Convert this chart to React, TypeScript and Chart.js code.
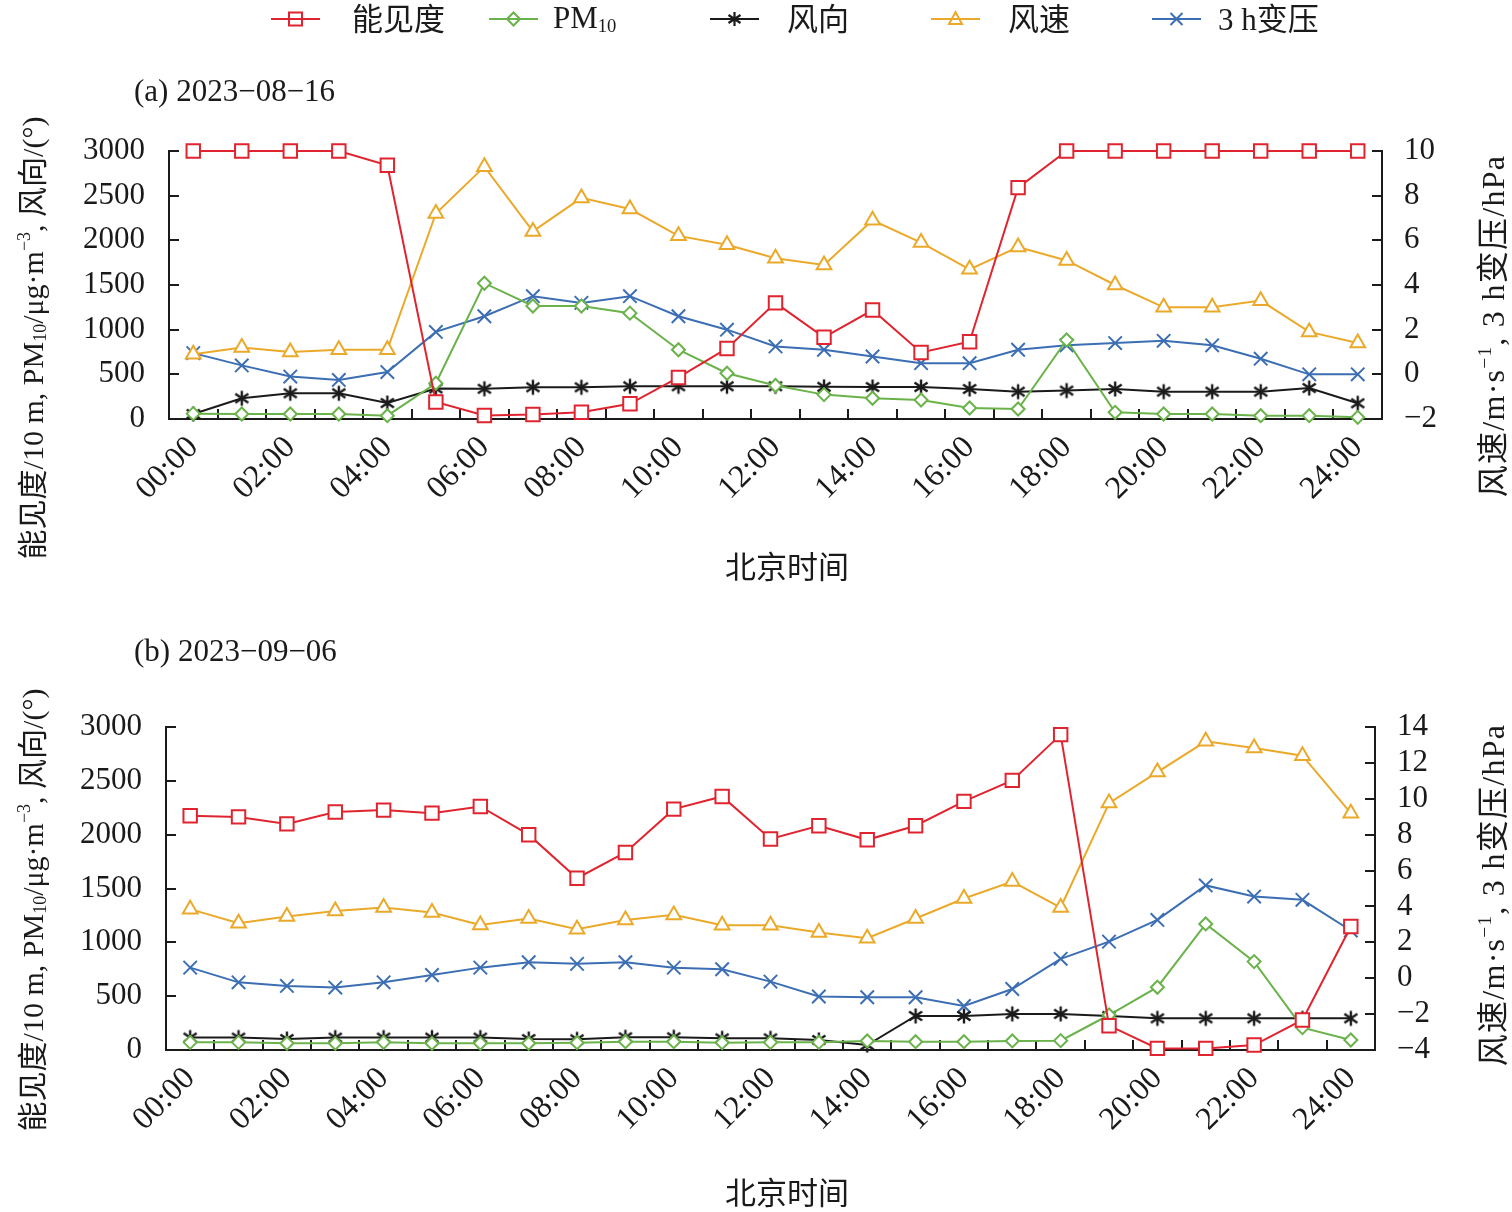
import React, { useEffect, useRef } from 'react';
import { Chart, registerables } from 'chart.js';

Chart.register(...registerables);

const FONT = '"Liberation Serif", "Times New Roman", "Noto Sans CJK SC", serif';

// ---------- data ----------
const hours = [
  '00:00', '01:00', '02:00', '03:00', '04:00', '05:00', '06:00', '07:00', '08:00',
  '09:00', '10:00', '11:00', '12:00', '13:00', '14:00', '15:00', '16:00', '17:00',
  '18:00', '19:00', '20:00', '21:00', '22:00', '23:00', '24:00',
];

const seriesNames = ['能见度', 'PM10', '风向', '风速', '3 h变压'];

// (a) 2023-08-16
const visibilityA = [3000, 3000, 3000, 3000, 2840, 190, 40, 50, 75, 170, 465, 790, 1300, 915, 1220, 745, 865, 2590, 3000, 3000, 3000, 3000, 3000, 3000, 3000];
const pm10A = [60, 56, 56, 56, 37, 400, 1520, 1265, 1265, 1185, 775, 512, 375, 273, 232, 213, 123, 112, 885, 75, 56, 56, 37, 37, 19];
const windDirA = [56, 232, 288, 288, 179, 342, 338, 355, 355, 366, 366, 366, 366, 360, 358, 358, 336, 306, 318, 336, 306, 306, 306, 347, 176];
const windSpeedA = [0.9, 1.2, 1.0, 1.1, 1.1, 7.2, 9.3, 6.4, 7.9, 7.4, 6.2, 5.8, 5.2, 4.9, 6.9, 5.9, 4.7, 5.7, 5.1, 4.0, 3.0, 3.0, 3.3, 1.9, 1.4];
const pressureA = [0.95, 0.4, -0.1, -0.25, 0.1, 1.9, 2.6, 3.5, 3.2, 3.5, 2.6, 2.0, 1.25, 1.1, 0.8, 0.5, 0.5, 1.1, 1.3, 1.4, 1.5, 1.3, 0.7, 0.0, 0.0];

// (b) 2023-09-06
const visibilityB = [2175, 2165, 2100, 2210, 2228, 2200, 2262, 2000, 1596, 1835, 2237, 2355, 1960, 2083, 1952, 2083, 2309, 2504, 2929, 226, 15, 15, 46, 279, 1147];
const pm10B = [71, 71, 62, 62, 71, 62, 62, 62, 68, 77, 77, 68, 71, 71, 84, 77, 77, 84, 87, 325, 583, 1171, 821, 208, 93];
const windDirB = [115, 115, 102, 115, 115, 115, 115, 102, 99, 118, 118, 108, 108, 93, 46, 316, 316, 335, 335, 316, 294, 294, 294, 294, 294];
const windSpeedB = [3.85, 3.07, 3.44, 3.75, 3.94, 3.66, 2.97, 3.33, 2.73, 3.25, 3.53, 2.95, 2.95, 2.55, 2.23, 3.33, 4.44, 5.39, 3.94, 9.76, 11.49, 13.2, 12.83, 12.4, 9.2];
const pressureB = [0.59, -0.23, -0.43, -0.52, -0.23, 0.18, 0.59, 0.89, 0.8, 0.89, 0.59, 0.5, -0.19, -1.02, -1.06, -1.06, -1.55, -0.6, 1.08, 2.04, 3.25, 5.17, 4.55, 4.37, 2.66];

// ---------- style ----------
const RED = '#E0242F';
const GREEN = '#6AB24A';
const BLACK = '#1A1A1A';
const ORANGE = '#EBA92A';
const BLUE = '#3C6EB4';
const AXIS = '#1A1A1A';

function makeAsterisk(color: string) {
  const c = document.createElement('canvas');
  const s = 20;
  c.width = s;
  c.height = s;
  const g = c.getContext('2d')!;
  g.strokeStyle = color;
  g.lineWidth = 2.4;
  g.beginPath();
  g.moveTo(10, 2.5);
  g.lineTo(10, 17.5);
  g.moveTo(3.5, 5.5);
  g.lineTo(16.5, 14.5);
  g.moveTo(3.5, 14.5);
  g.lineTo(16.5, 5.5);
  g.stroke();
  return c;
}

const innerTicks = {
  id: 'innerTicks',
  beforeDatasetsDraw(chart: any) {
    const { ctx, chartArea, scales } = chart;
    const L = 10;
    ctx.save();
    ctx.strokeStyle = AXIS;
    ctx.lineWidth = 2;
    ctx.beginPath();
    const x = scales.x;
    const n = chart.data.labels.length;
    const p0 = x.getPixelForTick(0);
    const step = x.getPixelForTick(1) - p0;
    for (let i = 1; i < n; i++) {
      const px = Math.round(p0 + (i - 0.5) * step);
      ctx.moveTo(px, chartArea.bottom);
      ctx.lineTo(px, chartArea.bottom - L);
    }
    const y = scales.y;
    y.ticks.forEach((_: any, i: number) => {
      const py = Math.round(y.getPixelForTick(i));
      ctx.moveTo(chartArea.left, py);
      ctx.lineTo(chartArea.left + L, py);
    });
    const y1 = scales.y1;
    y1.ticks.forEach((_: any, i: number) => {
      const py = Math.round(y1.getPixelForTick(i));
      ctx.moveTo(chartArea.right, py);
      ctx.lineTo(chartArea.right - L, py);
    });
    ctx.stroke();
    ctx.restore();
  },
};

const fmt = (v: any) => (Number(v) < 0 ? '\u2212' + Math.abs(Number(v)) : String(v));

type PanelProps = {
  top: number;
  height: number;
  padTop: number;
  leftW: number;
  rightW: number;
  xH: number;
  rMin: number;
  rMax: number;
  vis: number[];
  pm: number[];
  wd: number[];
  ws: number[];
  dp: number[];
};

function Panel(p: PanelProps) {
  const ref = useRef<HTMLCanvasElement>(null);
  useEffect(() => {
    const star = makeAsterisk(BLACK);
    const common = { borderWidth: 2, pointBorderWidth: 2, pointBackgroundColor: '#fff', tension: 0, clip: false };
    const chart = new Chart(ref.current!, {
      type: 'line',
      data: {
        labels: hours,
        datasets: [
          { ...common, label: seriesNames[0], data: p.vis, yAxisID: 'y', borderColor: RED, pointBorderColor: RED, pointStyle: 'rect', pointRadius: 9.5 },
          { ...common, label: seriesNames[1], data: p.pm, yAxisID: 'y', borderColor: GREEN, pointBorderColor: GREEN, pointStyle: 'rectRot', pointRadius: 6.5 },
          { ...common, label: seriesNames[2], data: p.wd, yAxisID: 'y', borderColor: BLACK, pointBorderColor: BLACK, pointStyle: star as any, pointRadius: 9 },
          { ...common, label: seriesNames[3], data: p.ws, yAxisID: 'y1', borderColor: ORANGE, pointBorderColor: ORANGE, pointStyle: 'triangle', pointRadius: 8.5 },
          { ...common, label: seriesNames[4], data: p.dp, yAxisID: 'y1', borderColor: BLUE, pointBorderColor: BLUE, pointBackgroundColor: BLUE, pointStyle: 'crossRot', pointRadius: 9.5 },
        ] as any,
      },
      options: {
        responsive: false,
        maintainAspectRatio: false,
        animation: false,
        layout: { padding: { top: p.padTop, left: 0, right: 0, bottom: 0 } },
        plugins: { legend: { display: false }, title: { display: false }, tooltip: { enabled: false } },
        scales: {
          x: {
            type: 'category',
            offset: true,
            grid: { display: false, drawTicks: false },
            border: { display: true, color: AXIS, width: 2 },
            ticks: {
              autoSkip: false,
              maxRotation: 45,
              minRotation: 45,
              padding: 10,
              color: AXIS,
              font: { family: FONT, size: 32 },
              callback: (_v: any, i: number) => (i % 2 === 0 ? hours[i] : ''),
            },
            afterFit: (s: any) => { s.height = p.xH; },
          },
          y: {
            position: 'left',
            min: 0,
            max: 3000,
            grid: { display: false, drawTicks: false },
            border: { display: true, color: AXIS, width: 2 },
            ticks: { stepSize: 500, autoSkip: false, padding: 24, color: AXIS, font: { family: FONT, size: 31 }, callback: fmt },
            afterFit: (s: any) => { s.width = p.leftW; },
          },
          y1: {
            position: 'right',
            min: p.rMin,
            max: p.rMax,
            grid: { display: false, drawTicks: false },
            border: { display: true, color: AXIS, width: 2 },
            ticks: { stepSize: 2, autoSkip: false, padding: 22, color: AXIS, font: { family: FONT, size: 31 }, callback: fmt },
            afterFit: (s: any) => { s.width = p.rightW; },
          },
        },
      } as any,
      plugins: [innerTicks],
    });
    return () => chart.destroy();
  }, []);
  return (
    <canvas
      ref={ref}
      width={1512}
      height={p.height}
      style={{ position: 'absolute', left: 0, top: p.top, width: 1512, height: p.height }}
    />
  );
}

function Marker({ kind, color }: { kind: string; color: string }) {
  const cx = 24.5;
  const cy = 12;
  let m: React.ReactNode = null;
  if (kind === 'square') m = <rect x={cx - 6.5} y={cy - 6.5} width={13} height={13} fill="none" stroke={color} strokeWidth={2} />;
  if (kind === 'diamond') m = <polygon points={`${cx - 6.5},${cy} ${cx},${cy - 6.5} ${cx + 6.5},${cy} ${cx},${cy + 6.5}`} fill="none" stroke={color} strokeWidth={2} />;
  if (kind === 'star')
    m = (
      <path d={`M${cx},${cy - 7}V${cy + 7}M${cx - 6},${cy - 4}L${cx + 6},${cy + 4}M${cx - 6},${cy + 4}L${cx + 6},${cy - 4}`} stroke={color} strokeWidth={2.2} />
    );
  if (kind === 'triangle') m = <polygon points={`${cx},${cy - 7} ${cx + 6.5},${cy + 5} ${cx - 6.5},${cy + 5}`} fill="none" stroke={color} strokeWidth={2} />;
  if (kind === 'cross') m = <path d={`M${cx - 6},${cy - 6}L${cx + 6},${cy + 6}M${cx - 6},${cy + 6}L${cx + 6},${cy - 6}`} stroke={color} strokeWidth={2} />;
  return (
    <svg width={49} height={24} style={{ display: 'block' }}>
      <line x1={0} y1={cy} x2={49} y2={cy} stroke={color} strokeWidth={2} />
      {m}
    </svg>
  );
}

const legendItems: { kind: string; color: string; lx: number; tx: number; text: React.ReactNode }[] = [
  { kind: 'square', color: RED, lx: 271, tx: 352, text: '能见度' },
  { kind: 'diamond', color: GREEN, lx: 489, tx: 553, text: <>PM<sub style={{ fontSize: '0.6em', verticalAlign: '-0.2em' }}>10</sub></> },
  { kind: 'star', color: BLACK, lx: 710, tx: 787, text: '风向' },
  { kind: 'triangle', color: ORANGE, lx: 931, tx: 1008, text: '风速' },
  { kind: 'cross', color: BLUE, lx: 1152, tx: 1218, text: '3 h变压' },
];

const textBase: React.CSSProperties = {
  position: 'absolute',
  whiteSpace: 'nowrap',
  lineHeight: 1,
  fontFamily: FONT,
  color: '#1A1A1A',
};

function LeftTitle({ cx, cy }: { cx: number; cy: number }) {
  return (
    <div style={{ ...textBase, fontSize: 30, left: cx, top: cy, transform: 'translate(-50%, -50%) rotate(-90deg)' }}>
      能见度/10 m, PM<sub style={{ fontSize: '0.6em', verticalAlign: '-0.2em' }}>10</sub>/μg·m
      <sup style={{ fontSize: '0.6em', verticalAlign: '0.7em' }}>−3</sup>, 风向/(°)
    </div>
  );
}

function RightTitle({ cx, cy }: { cx: number; cy: number }) {
  return (
    <div style={{ ...textBase, fontSize: 32, letterSpacing: '0.04em', left: cx, top: cy, transform: 'translate(-50%, -50%) rotate(-90deg)' }}>
      风速/m·s<sup style={{ fontSize: '0.6em', verticalAlign: '0.7em' }}>−1</sup>, 3 h变压/hPa
    </div>
  );
}

export default function App() {
  return (
    <div style={{ position: 'absolute', left: 0, top: 0, width: 1512, height: 1212, background: '#fff', overflow: 'hidden' }}>
      <Panel top={0} height={600} padTop={151} leftW={169} rightW={130} xH={181} rMin={-2} rMax={10}
        vis={visibilityA} pm={pm10A} wd={windDirA} ws={windSpeedA} dp={pressureA} />
      <Panel top={600} height={612} padTop={127} leftW={166} rightW={137} xH={162} rMin={-4} rMax={14}
        vis={visibilityB} pm={pm10B} wd={windDirB} ws={windSpeedB} dp={pressureB} />

      {legendItems.map((it, i) => (
        <React.Fragment key={i}>
          <div style={{ position: 'absolute', left: it.lx, top: 19 - 12 }}>
            <Marker kind={it.kind} color={it.color} />
          </div>
          <div style={{ ...textBase, fontSize: 31, left: it.tx, top: 19, transform: 'translateY(-50%)' }}>{it.text}</div>
        </React.Fragment>
      ))}

      <div style={{ ...textBase, fontSize: 31, left: 134, top: 90, transform: 'translateY(-50%)' }}>(a) 2023−08−16</div>
      <div style={{ ...textBase, fontSize: 31, left: 134, top: 650, transform: 'translateY(-50%)' }}>(b) 2023−09−06</div>

      <div style={{ ...textBase, fontSize: 31, left: 787, top: 567, transform: 'translate(-50%, -50%)' }}>北京时间</div>
      <div style={{ ...textBase, fontSize: 31, left: 787, top: 1193, transform: 'translate(-50%, -50%)' }}>北京时间</div>

      <LeftTitle cx={32} cy={338} />
      <LeftTitle cx={32} cy={910} />
      <RightTitle cx={1492} cy={326} />
      <RightTitle cx={1492} cy={895} />
    </div>
  );
}
